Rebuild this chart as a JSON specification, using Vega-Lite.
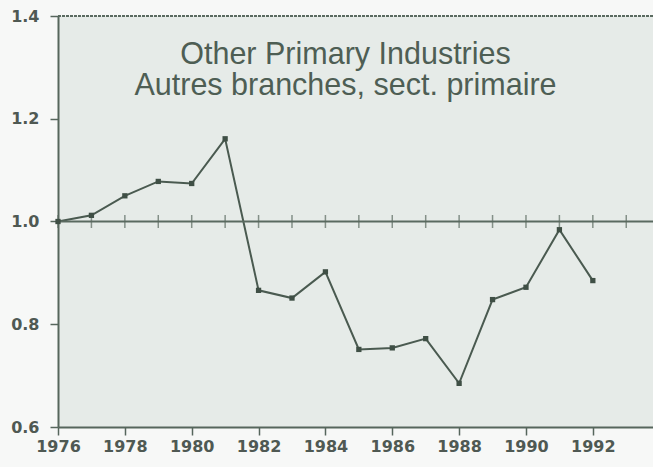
{
  "$schema": "https://vega.github.io/schema/vega-lite/v6.json",
  "width": 595,
  "height": 411,
  "autosize": {"type": "none"},
  "padding": {"left": 58, "top": 16, "right": 0, "bottom": 40},
  "background": "#f7f8f7",
  "title": {
    "text": ["Other Primary Industries", "Autres branches, sect. primaire"],
    "anchor": "middle",
    "orient": "top",
    "offset": -93,
    "dx": -10,
    "baseline": "top",
    "font": "Liberation Sans",
    "fontSize": 30.5,
    "fontWeight": "normal",
    "lineHeight": 31,
    "color": "#4e5e54"
  },
  "config": {
    "view": {"fill": "#e6ebe8", "stroke": null},
    "font": "DejaVu Sans"
  },
  "datasets": {
    "series": [
      {"year": 1976, "value": 1.0},
      {"year": 1977, "value": 1.012},
      {"year": 1978, "value": 1.05},
      {"year": 1979, "value": 1.078},
      {"year": 1980, "value": 1.074},
      {"year": 1981, "value": 1.161},
      {"year": 1982, "value": 0.866},
      {"year": 1983, "value": 0.851},
      {"year": 1984, "value": 0.902},
      {"year": 1985, "value": 0.751},
      {"year": 1986, "value": 0.754},
      {"year": 1987, "value": 0.772},
      {"year": 1988, "value": 0.685},
      {"year": 1989, "value": 0.848},
      {"year": 1990, "value": 0.872},
      {"year": 1991, "value": 0.984},
      {"year": 1992, "value": 0.885}
    ],
    "years": [
      {"year": 1976}, {"year": 1977}, {"year": 1978}, {"year": 1979}, {"year": 1980},
      {"year": 1981}, {"year": 1982}, {"year": 1983}, {"year": 1984}, {"year": 1985},
      {"year": 1986}, {"year": 1987}, {"year": 1988}, {"year": 1989}, {"year": 1990},
      {"year": 1991}, {"year": 1992}, {"year": 1993}
    ],
    "refs": [{"level": 1.0}]
  },
  "layer": [
    {
      "data": {"name": "series"},
      "mark": {"type": "line", "color": "#4a5a50", "strokeWidth": 2},
      "encoding": {
        "x": {
          "field": "year",
          "type": "quantitative",
          "scale": {"domain": [1976, 1993.8], "nice": false, "zero": false},
          "axis": {
            "values": [1976, 1977, 1978, 1979, 1980, 1981, 1982, 1983, 1984, 1985, 1986, 1987, 1988, 1989, 1990, 1991, 1992, 1993],
            "labelExpr": "datum.value % 2 == 0 ? datum.value : ''",
            "format": "d",
            "title": null,
            "grid": false,
            "domainColor": "#56665c",
            "domainWidth": 2,
            "tickColor": "#56665c",
            "tickWidth": 1.5,
            "tickSize": 8,
            "labelColor": "#4f5953",
            "labelFont": "DejaVu Sans",
            "labelFontSize": 16,
            "labelFontWeight": "bold",
            "labelPadding": 3,
            "labelFlush": false
          }
        },
        "y": {
          "field": "value",
          "type": "quantitative",
          "scale": {"domain": [0.6, 1.4], "nice": false, "zero": false},
          "axis": {
            "values": [0.6, 0.8, 1.0, 1.2, 1.4],
            "format": ".1f",
            "title": null,
            "grid": false,
            "domainColor": "#56665c",
            "domainWidth": 2,
            "tickColor": "#56665c",
            "tickWidth": 1.5,
            "tickSize": 8,
            "labelColor": "#4f5953",
            "labelFont": "DejaVu Sans",
            "labelFontSize": 16,
            "labelFontWeight": "bold",
            "labelPadding": 11
          }
        }
      }
    },
    {
      "data": {"name": "refs"},
      "mark": {"type": "rule", "color": "#5a6a60", "strokeWidth": 2},
      "encoding": {
        "y": {"field": "level", "type": "quantitative"}
      }
    },
    {
      "data": {"name": "years"},
      "mark": {"type": "tick", "color": "#5a6a60", "orient": "vertical", "size": 13, "thickness": 1.5},
      "encoding": {
        "x": {"field": "year", "type": "quantitative"},
        "y": {"datum": 1.0, "type": "quantitative"}
      }
    },
    {
      "data": {"name": "series"},
      "mark": {"type": "point", "shape": "square", "filled": true, "color": "#3f4f45", "size": 28, "opacity": 1},
      "encoding": {
        "x": {"field": "year", "type": "quantitative"},
        "y": {"field": "value", "type": "quantitative"}
      }
    },
    {
      "data": {"name": "refs"},
      "mark": {"type": "rule", "color": "#5a6a60", "strokeWidth": 2, "strokeDash": [3, 1]},
      "encoding": {
        "y": {"datum": 1.4, "type": "quantitative"}
      }
    }
  ]
}
